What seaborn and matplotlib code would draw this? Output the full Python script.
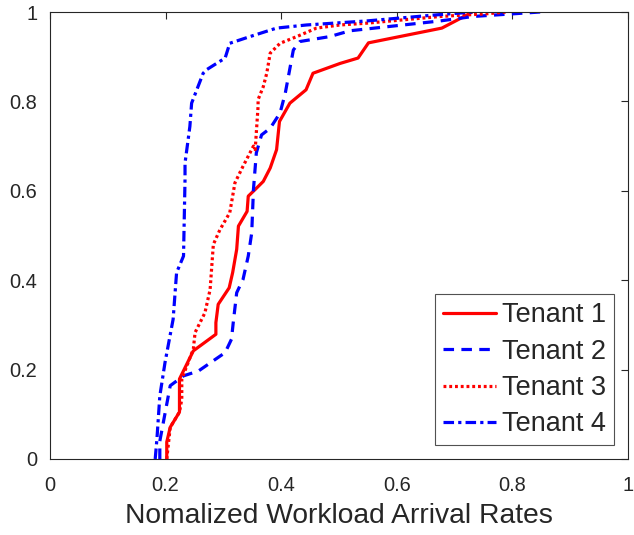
import numpy as np
import pandas as pd
import matplotlib
matplotlib.use("Agg")
import matplotlib.pyplot as plt
import seaborn as sns

tenants = ["Tenant 1", "Tenant 2", "Tenant 3", "Tenant 4"]

t1_x = [0.202, 0.202, 0.208, 0.224, 0.224, 0.248, 0.287, 0.287, 0.291, 0.310, 0.316, 0.323, 0.326,
        0.341, 0.343, 0.355, 0.369, 0.381, 0.392, 0.397, 0.415, 0.443, 0.455, 0.502, 0.533, 0.551,
        0.678, 0.721, 0.730]
t1_y = [0.0, 0.038, 0.071, 0.105, 0.179, 0.242, 0.279, 0.305, 0.346, 0.383, 0.417, 0.469, 0.521,
        0.554, 0.588, 0.603, 0.621, 0.651, 0.692, 0.755, 0.796, 0.826, 0.863, 0.885, 0.897, 0.931,
        0.964, 0.993, 1.0]

t2_x = [0.190, 0.190, 0.208, 0.231, 0.257, 0.303, 0.314, 0.317, 0.323, 0.334, 0.343, 0.349, 0.352,
        0.357, 0.366, 0.381, 0.398, 0.407, 0.421, 0.4325, 0.484, 0.519, 0.675, 0.732, 0.802, 0.848]
t2_y = [0.0, 0.040, 0.164, 0.186, 0.197, 0.238, 0.268, 0.305, 0.372, 0.402, 0.454, 0.506, 0.603,
        0.685, 0.725, 0.740, 0.774, 0.818, 0.915, 0.934, 0.945, 0.958, 0.980, 0.990, 0.996, 1.0]

t3_x = [0.202, 0.208, 0.224, 0.228, 0.228, 0.248, 0.251, 0.268, 0.277, 0.2826, 0.294, 0.311, 0.320,
        0.334, 0.352, 0.355, 0.360, 0.360, 0.369, 0.375, 0.381, 0.398, 0.427, 0.461, 0.502, 0.548,
        0.675, 0.755, 0.790]
t3_y = [0.0, 0.071, 0.105, 0.134, 0.179, 0.246, 0.283, 0.327, 0.379, 0.480, 0.513, 0.551, 0.618,
        0.655, 0.700, 0.692, 0.789, 0.804, 0.833, 0.863, 0.908, 0.930, 0.945, 0.964, 0.971, 0.975,
        0.990, 0.996, 1.0]

t4_x = [0.182, 0.185, 0.190, 0.199, 0.213, 0.219, 0.231, 0.2336, 0.2336, 0.242, 0.245, 0.265, 0.271,
        0.303, 0.311, 0.346, 0.392, 0.444, 0.502, 0.548, 0.663, 0.732]
t4_y = [0.0, 0.045, 0.141, 0.216, 0.3125, 0.417, 0.454, 0.625, 0.662, 0.744, 0.796, 0.863, 0.871,
        0.897, 0.930, 0.945, 0.964, 0.971, 0.976, 0.980, 0.993, 1.0]

xs = [t1_x, t2_x, t3_x, t4_x]
ys = [t1_y, t2_y, t3_y, t4_y]

frames = []
for name, x, y in zip(tenants, xs, ys):
    frames.append(pd.DataFrame({"x": x, "y": y, "Tenant": name}))
df = pd.concat(frames, ignore_index=True)

x_ticks = [0, 0.2, 0.4, 0.6, 0.8, 1]
x_labels = ["0", "0.2", "0.4", "0.6", "0.8", "1"]
y_ticks = [0, 0.2, 0.4, 0.6, 0.8, 1]
y_labels = ["0", "0.2", "0.4", "0.6", "0.8", "1"]

sns.set_style("white")
plt.rcParams["font.family"] = ["Liberation Sans", "DejaVu Sans"]

fig = plt.figure(figsize=(6.34, 5.35), dpi=100)
ax = fig.add_axes([50/634, (535-459)/535, (628-50)/634, (459-12)/535])

palette = {"Tenant 1": "#ff0000", "Tenant 2": "#0000ff", "Tenant 3": "#ff0000", "Tenant 4": "#0000ff"}
dashes = {"Tenant 1": "", "Tenant 2": (3.3, 2.3), "Tenant 3": (0.9, 0.9), "Tenant 4": (3.3, 1.3, 1.0, 1.3)}

sns.lineplot(data=df, x="x", y="y", hue="Tenant", style="Tenant", hue_order=tenants,
             style_order=tenants, palette=palette, dashes=dashes, sort=False,
             estimator=None, linewidth=2.3, ax=ax)

ax.set_xlim(0, 1)
ax.set_ylim(0, 1)
ax.set_xticks(x_ticks)
ax.set_xticklabels(x_labels)
ax.set_yticks(y_ticks)
ax.set_yticklabels(y_labels)
ax.set_xlabel("Nomalized Workload Arrival Rates", fontsize=20.3, color="#262626", labelpad=6)
ax.set_ylabel("")
ax.tick_params(axis="both", direction="in", length=5, width=0.8, colors="#262626",
               labelsize=14.4, top=True, right=True)
ax.tick_params(axis="x", pad=12)
ax.tick_params(axis="y", pad=9)
for s in ax.spines.values():
    s.set_visible(True)
    s.set_color("#262626")
    s.set_linewidth(0.8)

leg = ax.legend(loc="lower right", fontsize=19.5, frameon=True, fancybox=False,
                edgecolor="#262626", handlelength=1.95, handletextpad=0.22,
                borderpad=0.3, labelspacing=0.38, borderaxespad=0.5)
leg.get_frame().set_linewidth(0.8)
for line in leg.get_lines():
    line.set_linewidth(2.3)

fig.savefig("out.png", dpi=100)
